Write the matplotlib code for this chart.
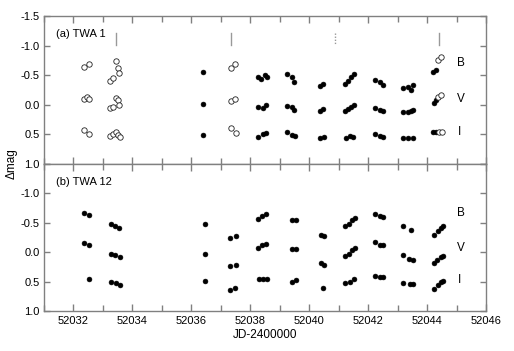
import matplotlib
matplotlib.use("Agg")
import matplotlib.pyplot as plt
from matplotlib.ticker import MultipleLocator

plt.rcParams['font.family'] = ['Liberation Sans', 'DejaVu Sans']

# ---------------- data ----------------
# TWA 1, open circles
t1o_B_jd = [52032.36, 52032.53, 52033.24, 52033.33, 52033.44, 52033.50, 52033.53, 52037.36, 52037.47, 52044.37, 52044.48]
t1o_B = [-0.64, -0.69, -0.40, -0.45, -0.745, -0.62, -0.54, -0.62, -0.69, -0.76, -0.81]
t1o_V_jd = [52032.36, 52032.45, 52032.54, 52033.24, 52033.35, 52033.44, 52033.52, 52033.55, 52037.36, 52037.48, 52044.37, 52044.48]
t1o_V = [-0.09, -0.13, -0.10, 0.06, 0.03, -0.12, -0.08, 0.00, -0.07, -0.10, -0.14, -0.17]
t1o_I_jd = [52032.36, 52032.54, 52033.24, 52033.35, 52033.44, 52033.52, 52033.58, 52037.33, 52037.50, 52044.42, 52044.52]
t1o_I = [0.43, 0.49, 0.52, 0.50, 0.46, 0.51, 0.54, 0.40, 0.47, 0.455, 0.455]

# TWA 1, filled circles
t1f_B_jd = [52036.38, 52038.25, 52038.38, 52038.49, 52038.56, 52039.23, 52039.42, 52039.48, 52040.38, 52040.47,
            52041.20, 52041.32, 52041.43, 52041.51, 52042.22, 52042.39, 52042.50, 52043.18, 52043.35, 52043.44,
            52043.52, 52044.20, 52044.29]
t1f_B = [-0.56, -0.47, -0.43, -0.50, -0.47, -0.515, -0.475, -0.38, -0.32, -0.35,
         -0.345, -0.40, -0.465, -0.515, -0.42, -0.39, -0.33, -0.28, -0.30, -0.25,
         -0.33, -0.56, -0.59]
t1f_V_jd = [52036.38, 52038.26, 52038.43, 52038.55, 52039.23, 52039.42, 52039.48, 52040.38, 52040.47, 52041.20,
            52041.32, 52041.43, 52041.51, 52042.22, 52042.39, 52042.50, 52043.18, 52043.35, 52043.46, 52043.52,
            52044.23, 52044.29]
t1f_V = [-0.01, 0.03, 0.05, 0.00, 0.015, 0.03, 0.09, 0.105, 0.07, 0.10,
         0.07, 0.03, 0.00, 0.06, 0.09, 0.10, 0.13, 0.12, 0.10, 0.08,
         -0.035, -0.08]
t1f_I_jd = [52036.38, 52038.26, 52038.43, 52038.55, 52039.23, 52039.42, 52039.51, 52040.38, 52040.50, 52041.26,
            52041.37, 52041.48, 52042.22, 52042.39, 52042.50, 52043.18, 52043.35, 52043.52, 52044.20, 52044.31]
t1f_I = [0.51, 0.54, 0.50, 0.48, 0.455, 0.51, 0.53, 0.555, 0.54, 0.555,
         0.52, 0.545, 0.50, 0.53, 0.55, 0.565, 0.565, 0.565, 0.465, 0.455]

# TWA 12, filled circles
t12_B_jd = [52032.36, 52032.54, 52033.26, 52033.41, 52033.55, 52036.48, 52037.31, 52037.51, 52038.26, 52038.41,
            52038.55, 52039.40, 52039.54, 52040.41, 52040.50, 52041.23, 52041.34, 52041.46, 52041.54, 52042.22,
            52042.39, 52042.50, 52043.20, 52043.44, 52044.23, 52044.37, 52044.48, 52044.54]
t12_B = [-0.67, -0.64, -0.48, -0.44, -0.41, -0.48, -0.245, -0.28, -0.57, -0.61,
         -0.65, -0.55, -0.55, -0.30, -0.27, -0.44, -0.48, -0.54, -0.58, -0.65,
         -0.62, -0.605, -0.45, -0.385, -0.30, -0.36, -0.41, -0.45]
t12_V_jd = [52032.36, 52032.54, 52033.26, 52033.41, 52033.58, 52036.48, 52037.31, 52037.51, 52038.26, 52038.41,
            52038.55, 52039.40, 52039.54, 52040.41, 52040.50, 52041.23, 52041.34, 52041.46, 52041.54, 52042.22,
            52042.39, 52042.50, 52043.20, 52043.38, 52043.52, 52044.23, 52044.35, 52044.46, 52044.54]
t12_V = [-0.16, -0.115, 0.025, 0.055, 0.09, 0.025, 0.24, 0.21, -0.075, -0.115,
         -0.145, -0.06, -0.06, 0.19, 0.22, 0.065, 0.025, -0.03, -0.07, -0.165,
         -0.13, -0.125, 0.05, 0.11, 0.14, 0.19, 0.14, 0.09, 0.06]
t12_I_jd = [52032.54, 52033.29, 52033.44, 52033.58, 52036.48, 52037.31, 52037.48, 52038.30, 52038.43, 52038.57,
            52039.43, 52039.54, 52040.47, 52041.23, 52041.37, 52041.51, 52042.22, 52042.39, 52042.50, 52043.20,
            52043.41, 52043.52, 52044.23, 52044.37, 52044.48, 52044.54]
t12_I = [0.45, 0.505, 0.53, 0.56, 0.49, 0.645, 0.61, 0.45, 0.45, 0.45,
         0.515, 0.465, 0.61, 0.52, 0.515, 0.46, 0.41, 0.43, 0.43, 0.53,
         0.545, 0.545, 0.62, 0.56, 0.515, 0.49]

# vertical markers in panel (a)
mark_jd = [52033.46, 52037.36, 52040.89, 52044.42]
mark_dotted = [False, False, True, False]

band_names = ['B', 'V', 'I']
band_pos_a = [-0.70, -0.10, 0.46]
band_pos_b = [-0.66, -0.07, 0.48]
panel_titles = ['(a) TWA 1', '(b) TWA 12']

# ---------------- figure ----------------
fig = plt.figure(figsize=(5.14, 3.51), dpi=100)
L, R = 44 / 514, 486 / 514
top_a, mid, bot = 1 - 16 / 351, 1 - 164 / 351, 1 - 311 / 351
axA = fig.add_axes([L, mid, R - L, top_a - mid])
axB = fig.add_axes([L, bot, R - L, mid - bot])

def filled(ax, x, y):
    ax.plot(x, y, 'o', ms=3.5, mfc='black', mec='black', mew=0.4, ls='none')

def opened(ax, x, y):
    ax.plot(x, y, 'o', ms=3.9, mfc='white', mec='#222222', mew=0.6, ls='none')

for x, y in [(t1f_B_jd, t1f_B), (t1f_V_jd, t1f_V), (t1f_I_jd, t1f_I)]:
    filled(axA, x, y)
for x, y in [(t1o_B_jd, t1o_B), (t1o_V_jd, t1o_V), (t1o_I_jd, t1o_I)]:
    opened(axA, x, y)
for x, y in [(t12_B_jd, t12_B), (t12_V_jd, t12_V), (t12_I_jd, t12_I)]:
    filled(axB, x, y)

for xm, d in zip(mark_jd, mark_dotted):
    axA.plot([xm, xm], [-1.22, -1.01], color='#999999', lw=1.0,
             ls=(0, (1, 1.2)) if d else '-')

for ax, pos, title in [(axA, band_pos_a, panel_titles[0]), (axB, band_pos_b, panel_titles[1])]:
    for name, p in zip(band_names, pos):
        ax.text(52045.03, p, name, fontsize=8.5, ha='left', va='center')
    ax.text(52031.4, -1.2, title, fontsize=8, ha='left', va='center')

for ax in (axA, axB):
    ax.set_xlim(52031, 52046)
    ax.set_ylim(1.0, -1.5)
    ax.xaxis.set_major_locator(MultipleLocator(2))
    ax.xaxis.set_minor_locator(MultipleLocator(1))
    ax.yaxis.set_major_locator(MultipleLocator(0.5))
    for s in ax.spines.values():
        s.set_color('#808080')
        s.set_linewidth(1.0)
    ax.tick_params(axis='x', which='both', direction='in', top=True, bottom=True,
                   color='#808080', width=1.0, labelsize=8)
    ax.tick_params(axis='x', which='major', length=5)
    ax.tick_params(axis='x', which='minor', length=4)
    ax.tick_params(axis='y', which='both', direction='in', left=True, right=True,
                   color='#808080', width=1.0, length=4.5, labelsize=8, pad=3)
    ax.yaxis.set_major_formatter(matplotlib.ticker.FormatStrFormatter('%.1f'))

axA.tick_params(axis='x', labelbottom=False)
axB.set_yticks([-1.5, -1.0, -0.5, 0.0, 0.5, 1.0])
axB.set_yticklabels(['', '-1.0', '-0.5', '0.0', '0.5', '1.0'])
axB.set_xlabel('JD-2400000', fontsize=8.5, labelpad=2)
fig.text(0.022, mid, 'Δmag', rotation=90, fontsize=8.5, ha='center', va='center')

fig.savefig('out.png', dpi=100)
